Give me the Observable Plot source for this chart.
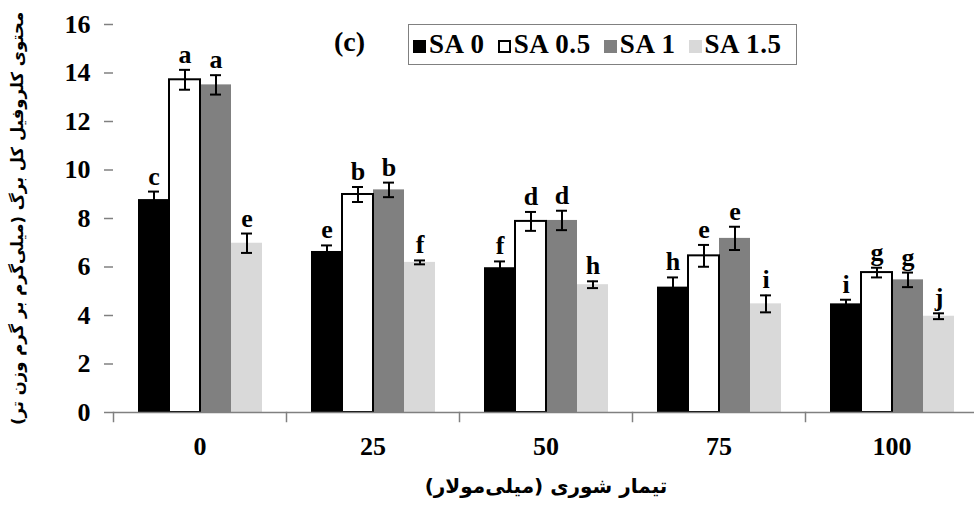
<!DOCTYPE html>
<html>
<head>
<meta charset="utf-8">
<script src="https://cdn.jsdelivr.net/npm/d3@7"></script>
<script src="https://cdn.jsdelivr.net/npm/@observablehq/plot@0.6"></script>
<style>
  body { margin: 0; background: #fff; }
  #wrap { position: relative; width: 974px; height: 507px; overflow: hidden; }
  #wrap svg { position: absolute; left: 0; top: 0; }
  g[aria-label="y-axis label"] text { font-family: "DejaVu Sans", sans-serif; font-size: 16.5px; font-weight: bold; }
  g[aria-label="fx-axis label"] text { font-family: "DejaVu Sans", sans-serif; font-size: 20px; font-weight: bold; }
  .legend { position: absolute; left: 408px; top: 24px; width: 389px; height: 41px; box-sizing: border-box;
    border: 1.5px solid #808080; display: flex; align-items: center; padding-left: 4px; white-space: nowrap;
    font-family: "Liberation Serif", "Times New Roman", serif; font-weight: bold; font-size: 27px; letter-spacing: 0.6px; color: #000; }
  .legend .item { display: flex; align-items: center; margin-right: 13px; flex-shrink: 0; }
  .legend .sw { width: 13px; height: 13px; box-sizing: border-box; margin-right: 3px; margin-top: 3px; flex-shrink: 0; }
  .panel { position: absolute; left: 334px; top: 28px; font-family: "Liberation Serif", "Times New Roman", serif;
    font-weight: bold; font-size: 28px; line-height: 1; }
</style>
</head>
<body>
<div id="wrap"></div>
<script>
// ---- data ----
const salinity = ["0", "25", "50", "75", "100"];
const series = ["SA 0", "SA 0.5", "SA 1", "SA 1.5"];
const sa0  = [8.78, 6.64, 5.97, 5.17, 4.48];
const sa05 = [13.72, 8.99, 7.88, 6.46, 5.77];
const sa1  = [13.51, 9.18, 7.92, 7.18, 5.47];
const sa15 = [6.98, 6.19, 5.27, 4.48, 3.97];
const err0  = [0.33, 0.25, 0.26, 0.40, 0.17];
const err05 = [0.41, 0.31, 0.39, 0.45, 0.20];
const err1  = [0.40, 0.30, 0.40, 0.48, 0.30];
const err15 = [0.40, 0.08, 0.14, 0.35, 0.12];
const letters0  = ["c", "e", "f", "h", "i"];
const letters05 = ["a", "b", "d", "e", "g"];
const letters1  = ["a", "b", "d", "e", "g"];
const letters15 = ["e", "f", "h", "i", "j"];
const yTicks = [0, 2, 4, 6, 8, 10, 12, 14, 16];
const xTitle = "تیمار شوری (میلی‌مولار)";
const yTitle = "محتوی کلروفیل کل برگ (میلی‌گرم بر گرم وزن تر)";
const panelLabel = "(c)";

// ---- styles ----
const colors = ["#000000", "#ffffff", "#808080", "#d9d9d9"];
const serif = "Liberation Serif, Times New Roman, serif";

const values = [sa0, sa05, sa1, sa15];
const errs = [err0, err05, err1, err15];
const letters = [letters0, letters05, letters1, letters15];
const rows = [];
salinity.forEach((c, i) => {
  series.forEach((s, j) => {
    rows.push({cat: c, series: s, value: values[j][i], err: errs[j][i], letter: letters[j][i]});
  });
});
const lo = d => d.value - d.err;
const hi = d => d.value + d.err;

const chart = Plot.plot({
  width: 974,
  height: 507,
  marginTop: 24,
  marginBottom: 95,
  marginLeft: 112,
  marginRight: -4,
  style: {background: "#fff", overflow: "visible"},
  fx: {domain: salinity, padding: 0},
  x: {domain: series, paddingInner: 0, paddingOuter: 0.75, axis: null},
  y: {domain: [0, 16], axis: null},
  color: {domain: series, range: colors},
  marks: [
    Plot.barY(rows, {fx: "cat", x: "series", y: "value", fill: "series"}),
    Plot.barY(rows.filter(d => d.series === "SA 0.5"), {fx: "cat", x: "series", y: "value", fill: "none", stroke: "#000", strokeWidth: 2}),
    Plot.ruleX(rows, {fx: "cat", x: "series", y1: lo, y2: hi, stroke: "#000", strokeWidth: 2}),
    Plot.tickY(rows, {fx: "cat", x: "series", y: lo, stroke: "#000", strokeWidth: 2, insetLeft: 10, insetRight: 10}),
    Plot.tickY(rows, {fx: "cat", x: "series", y: hi, stroke: "#000", strokeWidth: 2, insetLeft: 10, insetRight: 10}),
    Plot.text(rows, {fx: "cat", x: "series", y: hi, text: "letter", dy: -7, lineAnchor: "bottom",
      fontSize: 26, fontWeight: "bold", fontFamily: serif, fill: "#000"}),
    Plot.ruleY([0], {stroke: "#808080", strokeWidth: 1.5}),
    Plot.frame({anchor: "left", stroke: "#808080", strokeWidth: 1.5, insetTop: 388, insetBottom: -9}),
    Plot.axisY({ticks: yTicks, tickSize: 9, tickPadding: 14, stroke: "#808080", strokeWidth: 1.5,
      fontSize: 26, fontWeight: "bold", fontFamily: serif, fill: "#000",
      label: yTitle, labelAnchor: "center", labelArrow: false, labelOffset: 102}),
    Plot.axisY({ticks: yTicks, tickSize: 0, tickFormat: () => "", line: true, stroke: "#000", strokeWidth: 1.5, label: null}),
    Plot.axisFx({anchor: "bottom", tickSize: 0, tickPadding: 24, fontSize: 26, fontWeight: "bold", fontFamily: serif, fill: "#000",
      label: xTitle, labelAnchor: "center", labelArrow: false, labelOffset: 80})
  ]
});

const wrap = document.getElementById("wrap");
wrap.appendChild(chart);

const panel = document.createElement("div");
panel.className = "panel";
panel.textContent = panelLabel;
wrap.appendChild(panel);

const legend = document.createElement("div");
legend.className = "legend";
series.forEach((s, j) => {
  const item = document.createElement("div");
  item.className = "item";
  const sw = document.createElement("div");
  sw.className = "sw";
  sw.style.background = colors[j];
  if (colors[j] === "#ffffff") sw.style.border = "2px solid #000";
  const t = document.createElement("span");
  t.textContent = s;
  item.appendChild(sw);
  item.appendChild(t);
  legend.appendChild(item);
});
wrap.appendChild(legend);
</script>
</body>
</html>
